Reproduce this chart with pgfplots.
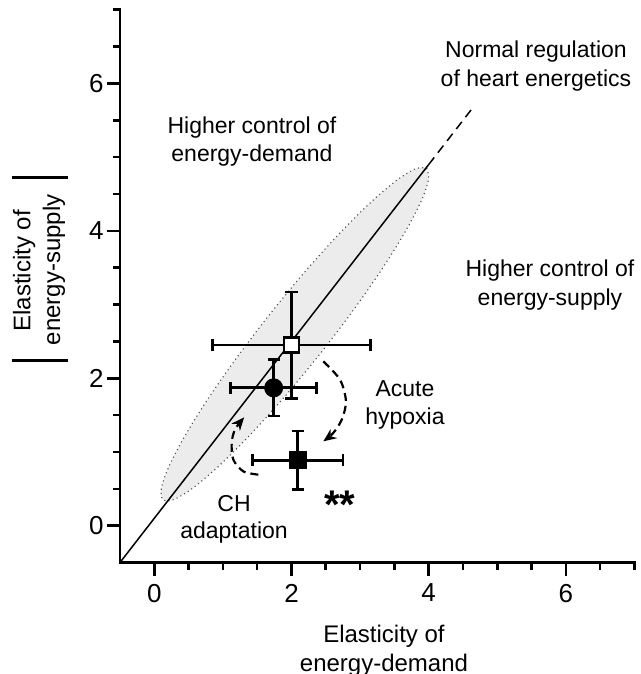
\documentclass[border=0pt]{standalone}
\usepackage{fontspec}
\setmainfont{Liberation Sans}
\usepackage{pgfplots}
\pgfplotsset{compat=1.18}
\usetikzlibrary{arrows.meta}
\newcommand\lab{\fontsize{23}{28}\selectfont}
\newcommand\tit{\fontsize{24}{29}\selectfont}
\begin{document}
\begin{tikzpicture}
\begin{axis}[
  scale only axis, width=514.5pt, height=552.7pt,
  xmin=-0.5, xmax=7, ymin=-0.5, ymax=7,
  axis lines*=left,
  axis line style={line width=2.6pt, -, line cap=rect},
  clip=false,
  unbounded coords=jump,
  xtick={0,2,4,6}, ytick={0,2,4,6},
  minor xtick={0.5,1,1.5,2.5,3,3.5,4.5,5,5.5,6.5,7},
  minor ytick={0.5,1,1.5,2.5,3,3.5,4.5,5,5.5,6.5,7},
  tick align=outside,
  major tick length=13pt, minor tick length=7pt,
  tick style={line width=2.6pt, black},
  tick label style={font=\fontsize{26}{30}\selectfont},
  /pgf/number format/assume math mode=true,
  xticklabel style={yshift=-5pt},
]
% confidence ellipse
\addplot[fill=gray!15, draw=gray!60!black, line width=1.1pt, dash pattern=on 1.1pt off 3.2pt, smooth] coordinates {
(3.970,4.851) (3.999,4.704) (3.895,4.414) (3.666,4.001) (3.326,3.492) (2.900,2.922)
(2.415,2.330) (1.906,1.757) (1.406,1.241) (0.950,0.817) (0.570,0.516) (0.290,0.356)
(0.130,0.349) (0.101,0.496) (0.205,0.786) (0.434,1.199) (0.774,1.708) (1.201,2.278)
(1.685,2.870) (2.194,3.443) (2.694,3.959) (3.150,4.383) (3.531,4.684) (3.811,4.844)
(3.970,4.851)};
% normal regulation line
\addplot[black, line width=1.5pt] coordinates {(-0.5,-0.5) (4.0,4.9)};
\addplot[black, line width=1.5pt, dash pattern=on 9pt off 6pt] coordinates {(4.0,4.9) (4.65,5.68)};
% error bars: control (open square)
\addplot[black, line width=2.7pt] coordinates {
(0.85,2.45) (3.15,2.45) (0,nan)
(2.0,1.73) (2.0,3.17) (0,nan)
(0.85,2.369) (0.85,2.531) (0,nan)
(3.15,2.369) (3.15,2.531) (0,nan)
(1.9125,1.73) (2.0875,1.73) (0,nan)
(1.9125,3.17) (2.0875,3.17)};
% error bars: CH (filled circle)
\addplot[black, line width=2.7pt] coordinates {
(1.115,1.87) (2.365,1.87) (0,nan)
(1.74,1.49) (1.74,2.25) (0,nan)
(1.115,1.789) (1.115,1.951) (0,nan)
(2.365,1.789) (2.365,1.951) (0,nan)
(1.6525,1.49) (1.8275,1.49) (0,nan)
(1.6525,2.25) (1.8275,2.25)};
% error bars: acute hypoxia (filled square)
\addplot[black, line width=2.7pt] coordinates {
(1.43,0.886) (2.75,0.886) (0,nan)
(2.09,0.486) (2.09,1.286) (0,nan)
(1.43,0.805) (1.43,0.967) (0,nan)
(2.75,0.805) (2.75,0.967) (0,nan)
(2.0025,0.486) (2.1775,0.486) (0,nan)
(2.0025,1.286) (2.1775,1.286)};
% markers
\addplot[black, only marks, mark=square*, mark size=7.5pt, mark options={fill=white, line width=2.7pt}]
  coordinates {(2.0,2.45)};
\addplot[black, only marks, mark=*, mark size=9pt, mark options={fill=black, line width=1pt}]
  coordinates {(1.74,1.87)};
\addplot[black, only marks, mark=square*, mark size=8.5pt, mark options={fill=black, line width=1pt}]
  coordinates {(2.09,0.886)};
% curved arrows
\addplot[black, smooth, line width=2.2pt, dash pattern=on 8pt off 5pt, -{Stealth[length=13pt, width=11pt]}]
  coordinates {(2.464,2.229) (2.707,1.981) (2.794,1.687) (2.732,1.438) (2.609,1.258) (2.464,1.144)};
\addplot[black, smooth, line width=2.2pt, dash pattern=on 8pt off 5pt, -{Stealth[length=13pt, width=11pt]}]
  coordinates {(1.516,0.692) (1.297,0.737) (1.152,0.896) (1.128,1.122) (1.176,1.303) (1.31,1.47)};
% texts
\node[anchor=base, font=\lab] at (axis cs:1.424,5.328) {Higher control of};
\node[anchor=base, font=\lab] at (axis cs:1.424,4.943) {energy-demand};
\node[anchor=base, font=\lab] at (axis cs:5.564,6.346) {Normal regulation};
\node[anchor=base, font=\lab] at (axis cs:5.564,5.953) {of heart energetics};
\node[anchor=base, font=\lab] at (axis cs:5.768,3.379) {Higher control of};
\node[anchor=base, font=\lab] at (axis cs:5.768,2.985) {energy-supply};
\node[anchor=base, font=\lab] at (axis cs:3.654,1.750) {Acute};
\node[anchor=base, font=\lab] at (axis cs:3.654,1.370) {hypoxia};
\node[anchor=base, font=\lab] at (axis cs:1.162,0.190) {CH};
\node[anchor=base, font=\lab] at (axis cs:1.162,-0.176) {adaptation};
\node[anchor=base, font=\fontsize{40}{40}\selectfont\bfseries] at (axis cs:2.707,0.095) {**};
% axis titles
\node[anchor=base, font=\tit] at (axis cs:3.348,-1.588) {Elasticity of};
\node[anchor=base, font=\tit] at (axis cs:3.348,-1.975) {energy-demand};
\node[anchor=base, font=\tit, rotate=90] at (axis cs:-1.808,3.46) {Elasticity of};
\node[anchor=base, font=\tit, rotate=90] at (axis cs:-1.371,3.473) {energy-supply};
\draw[line width=3pt] (axis cs:-2.079,4.718) -- (axis cs:-1.254,4.718);
\draw[line width=3pt] (axis cs:-2.079,2.243) -- (axis cs:-1.254,2.243);
\end{axis}
\pgfresetboundingbox
\path[use as bounding box] (current axis.south west) ++(-120pt,-111.5pt) rectangle ++(640pt,674pt);
\end{tikzpicture}
\end{document}
